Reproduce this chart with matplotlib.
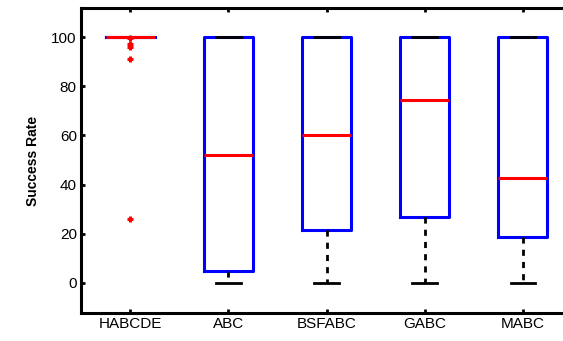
import matplotlib
matplotlib.use("Agg")
import matplotlib.pyplot as plt

plt.rcParams["font.family"] = ["Liberation Sans", "DejaVu Sans"]

labels = ["HABCDE", "ABC", "BSFABC", "GABC", "MABC"]
medians = [100, 52, 60, 74.5, 42.5]
q1 = [100, 4.8, 21.5, 27.0, 18.8]
q3 = [100, 100, 100, 100, 100]
whislo = [100, 0, 0, 0, 0]
whishi = [100, 100, 100, 100, 100]
fliers = [[99.5, 97.2, 96.0, 90.9, 26.0], [], [], [], []]

stats = []
for i, lab in enumerate(labels):
    stats.append(dict(label=lab, med=medians[i], q1=q1[i], q3=q3[i],
                      whislo=whislo[i], whishi=whishi[i], fliers=fliers[i]))

fig = plt.figure(figsize=(5.63, 3.41), dpi=100)
# the right edge of the axes lies past the figure, as in the reference
ax = fig.add_axes([81 / 563, 28 / 341, 491 / 563, 305 / 341])

ax.bxp(
    stats,
    positions=range(1, len(labels) + 1),
    widths=0.5,
    boxprops=dict(color="#0000ff", linewidth=2.2),
    medianprops=dict(color="#ff0000", linewidth=2.2),
    whiskerprops=dict(color="black", linewidth=2, linestyle=(0, (2.2, 2.2))),
    capprops=dict(color="black", linewidth=2),
    capwidths=0.25,
    flierprops=dict(marker="+", markeredgecolor="#ff0000", markersize=5, markeredgewidth=2.2),
)

ax.set_xlim(0.5, 5.5)
ax.set_ylim(-12.2, 111.8)
ax.set_yticks([0, 20, 40, 60, 80, 100])
ax.set_xticks(range(1, len(labels) + 1))
ax.set_xticklabels(labels)
ax.tick_params(direction="in", length=3, width=2, labelsize=11, top=True, right=False, pad=3)
for s in ax.spines.values():
    s.set_linewidth(2.2)
ax.spines["right"].set_visible(False)
ax.set_ylabel("Success Rate", fontsize=10, fontweight="bold", labelpad=8)

fig.savefig("out.png", dpi=100)
